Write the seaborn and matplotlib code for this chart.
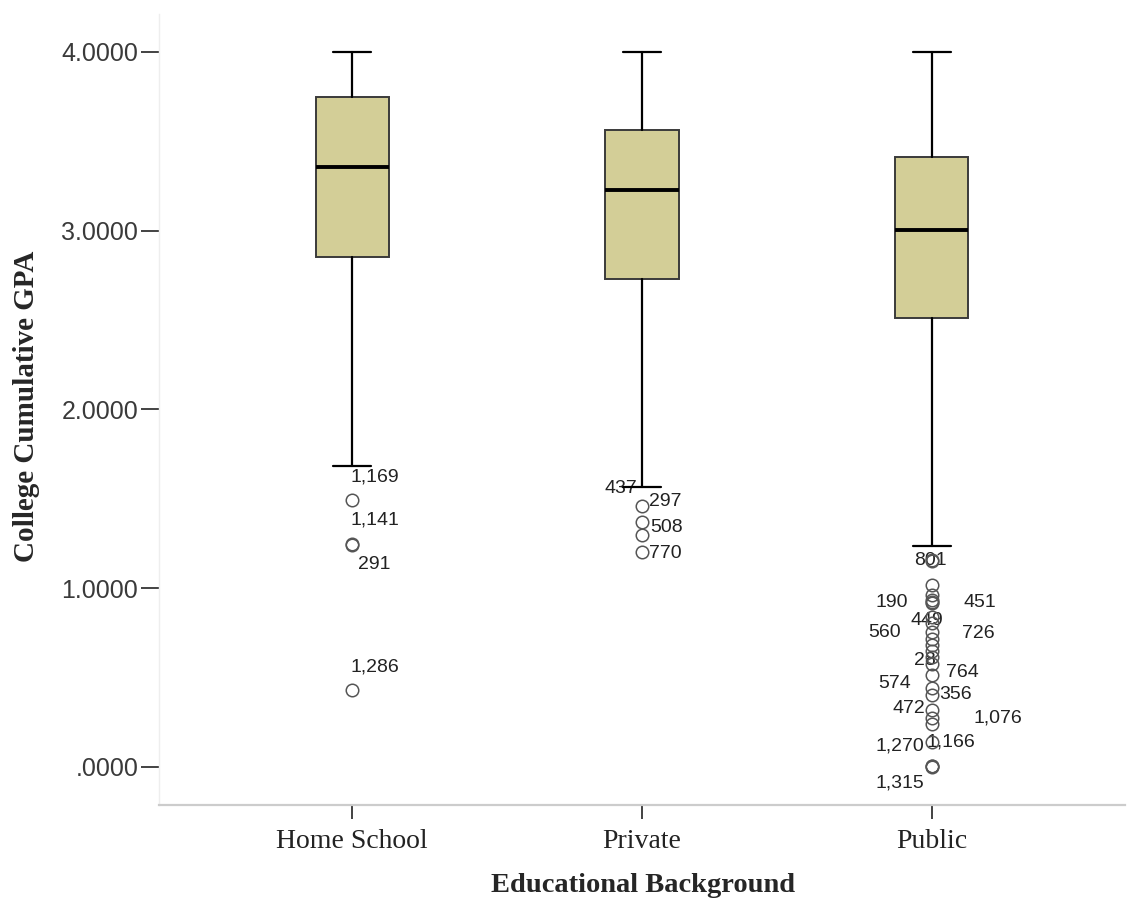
import matplotlib
matplotlib.use("Agg")
import matplotlib.pyplot as plt
import seaborn as sns

# ---------------- data ----------------
categories = ["Home School", "Private", "Public"]
whisker_high = [4.000, 4.000, 4.000]
q3_values = [3.748, 3.564, 3.413]
median_values = [3.357, 3.228, 3.004]
q1_values = [2.853, 2.730, 2.512]
whisker_low = [1.684, 1.566, 1.236]

home_outliers = [1.494, 1.250, 1.240, 0.431]
private_outliers = [1.460, 1.371, 1.298, 1.203]
public_outliers = [1.160, 1.150, 1.018, 0.965, 0.935, 0.925, 0.918, 0.840,
                   0.806, 0.755, 0.715, 0.685, 0.650, 0.615, 0.575, 0.515,
                   0.440, 0.405, 0.320, 0.275, 0.240, 0.140, 0.008, 0.004,
                   0.000]

home_label_ids = ["1,169", "1,141", "291", "1,286"]
home_label_vals = [1.494, 1.250, 1.240, 0.431]
private_label_ids = ["437", "297", "508", "770"]
private_label_vals = [1.460, 1.460, 1.371, 1.203]
public_label_ids = ["801", "190", "451", "449", "560", "726", "28", "764",
                    "574", "356", "472", "1,076", "1,270", "1,166", "1,315"]
public_label_vals = [1.155, 0.930, 0.930, 0.806, 0.755, 0.755, 0.575, 0.515,
                     0.440, 0.405, 0.320, 0.275, 0.140, 0.140, 0.000]

y_ticks = [0, 1, 2, 3, 4]
y_tick_labels = [".0000", "1.0000", "2.0000", "3.0000", "4.0000"]
x_title = "Educational Background"
y_title = "College Cumulative GPA"

# ---------------- layout / style (pixel offsets of labels) ----------------
home_label_offsets = [(-2, 23), (-2, 24), (6, -19), (-2, 23)]
private_label_offsets = [(-38, 18), (7, 5), (8, -6), (7, -2)]
public_label_offsets = [(-1, 0), (-56, -2), (32, -2), (-21, 2), (-64, 0),
                        (30, -1), (-18, 4), (14, 2), (-54, 5), (7, 0),
                        (-39, 1), (42, 0), (-56, -4), (-5, 0), (-56, -16)]

sns.set_style("white")
plt.rcParams["font.family"] = ["Liberation Sans", "DejaVu Sans"]

W, H = 1128, 910
fig = plt.figure(figsize=(W / 100, H / 100), dpi=100)
ax_l, ax_r, ax_t, ax_b = 159, 1125, 14, 805
ax = fig.add_axes([ax_l / W, 1 - ax_b / H, (ax_r - ax_l) / W, (ax_b - ax_t) / H])

outlier_groups = [home_outliers, private_outliers, public_outliers]
stats = []
for i, cat in enumerate(categories):
    stats.append(dict(label=cat, med=median_values[i], q1=q1_values[i],
                      q3=q3_values[i], whislo=whisker_low[i],
                      whishi=whisker_high[i], fliers=outlier_groups[i]))

box_color = "#d3ce97"
ax.bxp(stats, positions=range(len(categories)), widths=0.252,
       capwidths=0.13, patch_artist=True, showfliers=True,
       boxprops=dict(facecolor=box_color, edgecolor="#3a3a3a", linewidth=1.4),
       medianprops=dict(color="black", linewidth=2.8),
       whiskerprops=dict(color="#000000", linewidth=1.6),
       capprops=dict(color="#000000", linewidth=1.6),
       flierprops=dict(marker="o", markerfacecolor="none",
                       markeredgecolor="#555555", markersize=9,
                       markeredgewidth=1.1))

label_sets = [(home_label_ids, home_label_vals, home_label_offsets),
              (private_label_ids, private_label_vals, private_label_offsets),
              (public_label_ids, public_label_vals, public_label_offsets)]
for i, (ids, vals, offs) in enumerate(label_sets):
    for lab, v, (dx, dy) in zip(ids, vals, offs):
        ha = "center" if (i == 2 and lab == "801") else "left"
        ax.annotate(lab, xy=(i, v), xytext=(dx, dy), textcoords="offset pixels",
                    ha=ha, va="center", fontsize=14, color="#222222",
                    family=["Liberation Sans", "DejaVu Sans"], zorder=1)

ax.set_xlim(-2 / 3, 2 + 2 / 3)
ax.set_ylim((767 - ax_b) / 178.75, (767 - ax_t) / 178.75)
ax.set_yticks(y_ticks)
ax.set_yticklabels(y_tick_labels, family=["Liberation Sans", "DejaVu Sans"],
                   fontsize=18, color="#3a3a3a")
ax.set_xticks(range(len(categories)))
ax.set_xticklabels(categories, family=["Liberation Serif", "DejaVu Serif"],
                   fontsize=20, color="#222222")
ax.tick_params(axis="y", direction="out", length=13, width=1.2,
               color="#222222", pad=2, left=True)
ax.tick_params(axis="x", direction="out", length=10, width=1.2,
               color="#222222", pad=7, bottom=True)

for s in ["top", "right"]:
    ax.spines[s].set_visible(False)
ax.spines["left"].set_color("#eeeeee")
ax.spines["left"].set_linewidth(1.0)
ax.spines["bottom"].set_color("#cccccc")
ax.spines["bottom"].set_linewidth(1.6)

ax.set_xlabel(x_title, family=["Liberation Serif", "DejaVu Serif"],
              fontsize=20.5, fontweight="bold", va="center")
ax.set_ylabel(y_title, family=["Liberation Serif", "DejaVu Serif"],
              fontsize=21, fontweight="bold", va="center")
ax.xaxis.set_label_coords((643 - ax_l) / (ax_r - ax_l), (ax_b - 885) / (ax_b - ax_t))
ax.yaxis.set_label_coords((27 - ax_l) / (ax_r - ax_l), (ax_b - 406) / (ax_b - ax_t))

fig.savefig("out.png", dpi=100, facecolor="white")
